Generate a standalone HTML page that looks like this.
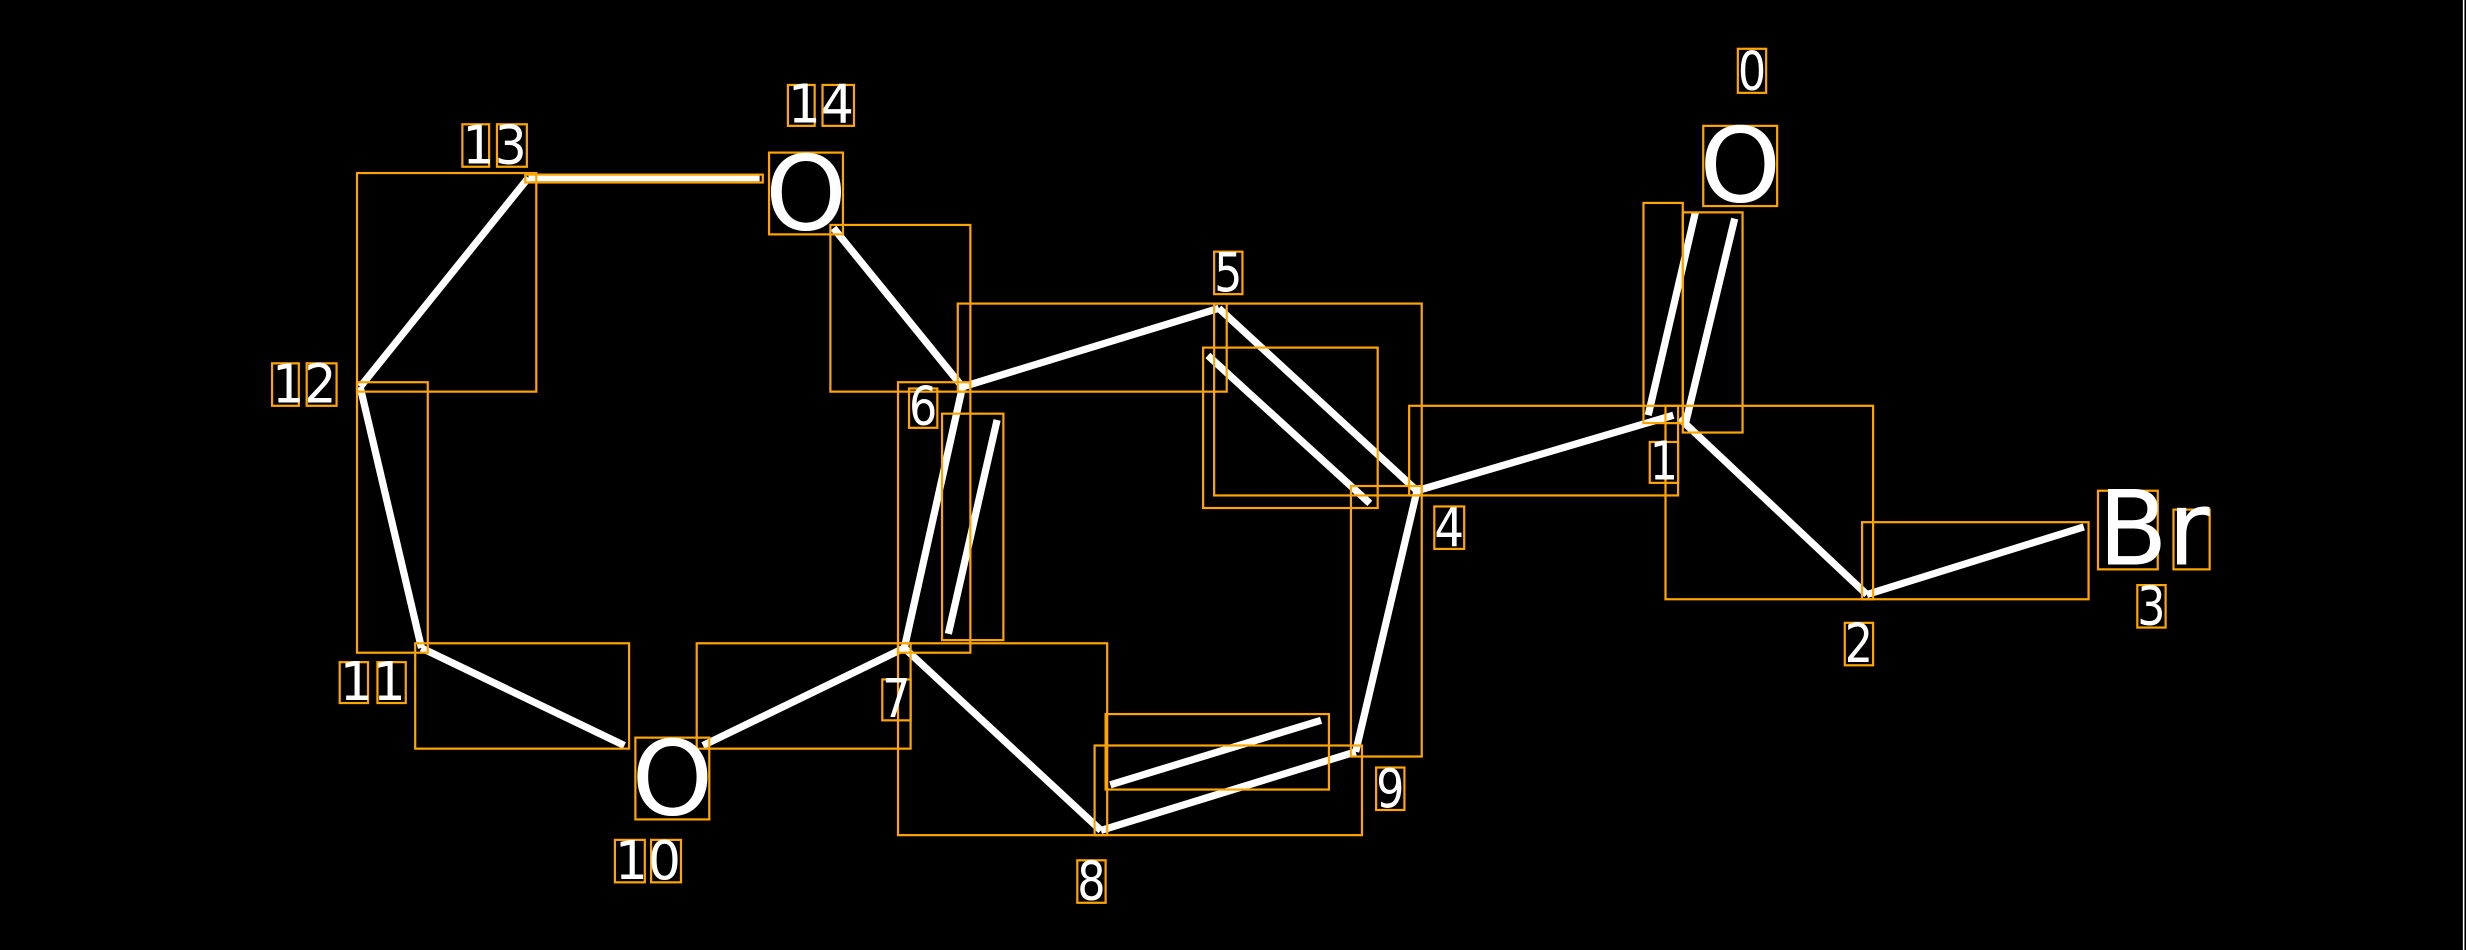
<!DOCTYPE html>
<html><head><meta charset="utf-8"><style>html,body{margin:0;padding:0;background:#000;}svg{display:block}</style></head>
<body>
<svg width="2466" height="950" viewBox="0 0 1568 604" xmlns="http://www.w3.org/2000/svg">
<rect width="1568" height="604" fill="#000"/>
<line x1="1566.5" y1="0" x2="1566.5" y2="604" stroke="#fff" stroke-width="1"/>
<g stroke="#fff" stroke-width="4.6" stroke-linecap="butt">
<line x1="336" y1="113" x2="483" y2="113"/>
<line x1="336" y1="113" x2="229" y2="246"/>
<line x1="229" y1="246" x2="268" y2="412"/>
<line x1="268" y1="412" x2="397" y2="474"/>
<line x1="447" y1="474" x2="575" y2="412"/>
<line x1="575" y1="412" x2="612" y2="246"/>
<line x1="603" y1="403" x2="634" y2="267"/>
<line x1="530" y1="145" x2="612" y2="246"/>
<line x1="612" y1="246" x2="775" y2="196"/>
<line x1="775" y1="196" x2="901" y2="312"/>
<line x1="768" y1="226" x2="871" y2="320"/>
<line x1="901" y1="312" x2="1064" y2="264"/>
<line x1="1048" y1="264" x2="1078" y2="135"/>
<line x1="1072" y1="268" x2="1103" y2="139"/>
<line x1="1068" y1="266" x2="1187" y2="378"/>
<line x1="1187" y1="378" x2="1325" y2="335"/>
<line x1="901" y1="312" x2="862" y2="478"/>
<line x1="862" y1="478" x2="700" y2="528"/>
<line x1="706" y1="499" x2="840" y2="458"/>
<line x1="700" y1="528" x2="575" y2="412"/>
</g>
<g fill="none" stroke="#FFA500" stroke-width="1.4">
<rect x="227" y="110" width="114" height="139"/>
<rect x="227" y="243" width="45" height="172"/>
<rect x="264" y="409" width="136" height="67"/>
<rect x="443" y="409" width="136" height="67"/>
<rect x="571" y="243" width="46" height="172"/>
<rect x="599" y="263" width="39" height="144"/>
<rect x="528" y="143" width="89" height="106"/>
<rect x="609" y="193" width="171" height="56"/>
<rect x="772" y="193" width="132" height="122"/>
<rect x="765" y="221" width="111" height="102"/>
<rect x="896" y="258" width="171" height="57"/>
<rect x="1045" y="129" width="25" height="140"/>
<rect x="1070" y="135" width="38" height="140"/>
<rect x="1059" y="258" width="132" height="123"/>
<rect x="1184" y="332" width="144" height="49"/>
<rect x="859" y="309" width="45" height="172"/>
<rect x="696" y="474" width="170" height="57"/>
<rect x="703" y="454" width="142" height="48"/>
<rect x="571" y="409" width="133" height="122"/>
<rect x="334" y="111" width="151" height="5"/>
<rect x="489" y="97" width="47" height="52"/>
<rect x="404" y="469" width="47" height="52"/>
<rect x="1083" y="80" width="47" height="51"/>
<rect x="1334" y="312" width="38" height="50"/>
<rect x="1382" y="324" width="23" height="38"/>
<rect x="1105" y="31" width="18" height="28"/>
<rect x="501" y="54" width="17" height="26"/><rect x="523" y="54" width="20" height="26"/>
<rect x="294" y="79" width="17" height="27"/><rect x="316" y="79" width="19" height="27"/>
<rect x="173" y="231" width="17" height="27"/><rect x="195" y="231" width="19" height="27"/>
<rect x="216" y="421" width="18" height="26"/><rect x="240" y="421" width="18" height="26"/>
<rect x="391" y="534" width="19" height="27"/><rect x="414" y="534" width="19" height="27"/>
<rect x="578" y="247" width="18" height="25"/>
<rect x="561" y="432" width="18" height="26"/>
<rect x="685" y="547" width="18" height="27"/>
<rect x="875" y="488" width="18" height="27"/>
<rect x="772" y="160" width="18" height="27"/>
<rect x="912" y="322" width="19" height="27"/>
<rect x="1049" y="281" width="18" height="26"/>
<rect x="1173" y="396" width="18" height="27"/>
<rect x="1359" y="372" width="18" height="27"/>
</g>
<g fill="#fff" font-family="'DejaVu Sans','Liberation Sans',sans-serif">
<g font-size="66">
<text x="512.5" y="146" text-anchor="middle">O</text>
<text x="427.5" y="518" text-anchor="middle">O</text>
<text x="1106.5" y="128" text-anchor="middle">O</text>
<text x="1334" y="359" textLength="71" lengthAdjust="spacingAndGlyphs">Br</text>
</g>
<g font-size="34">
<text x="1105" y="57" textLength="18" lengthAdjust="spacingAndGlyphs">0</text>
<text x="501" y="78" textLength="42" lengthAdjust="spacingAndGlyphs">14</text>
<text x="294" y="104" textLength="41" lengthAdjust="spacingAndGlyphs">13</text>
<text x="173" y="256" textLength="41" lengthAdjust="spacingAndGlyphs">12</text>
<text x="216" y="445" textLength="42" lengthAdjust="spacingAndGlyphs">11</text>
<text x="391" y="559" textLength="42" lengthAdjust="spacingAndGlyphs">10</text>
<text x="578" y="270" textLength="18" lengthAdjust="spacingAndGlyphs">6</text>
<text x="561" y="456" textLength="18" lengthAdjust="spacingAndGlyphs">7</text>
<text x="685" y="572" textLength="18" lengthAdjust="spacingAndGlyphs">8</text>
<text x="875" y="513" textLength="18" lengthAdjust="spacingAndGlyphs">9</text>
<text x="772" y="185" textLength="18" lengthAdjust="spacingAndGlyphs">5</text>
<text x="912" y="347" textLength="19" lengthAdjust="spacingAndGlyphs">4</text>
<text x="1049" y="305" textLength="18" lengthAdjust="spacingAndGlyphs">1</text>
<text x="1173" y="421" textLength="18" lengthAdjust="spacingAndGlyphs">2</text>
<text x="1359" y="397" textLength="18" lengthAdjust="spacingAndGlyphs">3</text>
</g>
</g>
</svg>
</body></html>
